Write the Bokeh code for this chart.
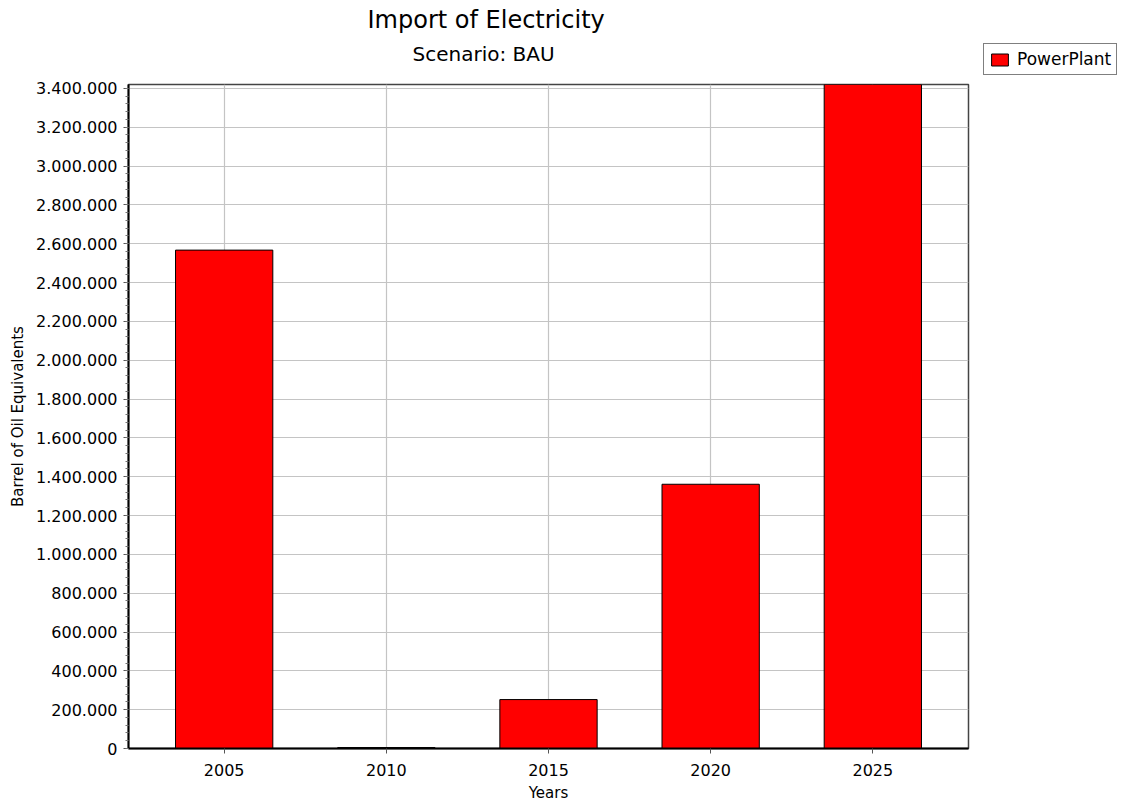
from bokeh.plotting import figure
from bokeh.models import FactorRange, Range1d, Title, Legend, LegendItem, CustomJSTickFormatter, ColumnDataSource
from bokeh.embed import file_html
from bokeh.resources import INLINE

years = ["2005", "2010", "2015", "2020", "2025"]
power_plant = [2567000, 5000, 252000, 1361000, 3420000]

FONT = "DejaVu Sans"

src = ColumnDataSource(dict(x=years, top=power_plant))

p = figure(x_range=FactorRange(*years, range_padding=0.036),
           y_range=Range1d(0, 3420000),
           frame_width=840, frame_height=664,
           min_border_left=128, min_border_right=155,
           min_border_top=84, min_border_bottom=57,
           output_backend="svg", toolbar_location=None, title=None)

r = p.vbar(x="x", top="top", width=0.6, source=src, fill_color="#ff0000",
           line_color="black", line_width=1)

p.add_layout(Title(text="Scenario: BAU", align="left", offset=284,
                   text_font=FONT, text_font_size="20px", text_font_style="normal",
                   text_color="black", standoff=38), "above")
p.add_layout(Title(text="Import of Electricity", align="left", offset=239,
                   text_font=FONT, text_font_size="24px", text_font_style="normal",
                   text_color="black", standoff=-27), "above")

p.yaxis.formatter = CustomJSTickFormatter(code="""
return Math.round(tick).toString().replace(/\\B(?=(\\d{3})+(?!\\d))/g, ".");
""")
p.yaxis.ticker.desired_num_ticks = 17
p.yaxis.ticker.num_minor_ticks = 5

for ax in (p.xaxis, p.yaxis):
    ax.axis_line_color = "black"
    ax.axis_line_width = 2
    ax.major_tick_line_color = "#555555"
    ax.minor_tick_line_color = "#777777"
    ax.major_tick_out = 5
    ax.major_tick_in = 0
    ax.minor_tick_out = 3
    ax.minor_tick_in = 0
    ax.major_label_text_font = FONT
    ax.major_label_text_font_size = "16px"
    ax.major_label_text_color = "black"
    ax.axis_label_text_font = FONT
    ax.axis_label_text_font_size = "15px"
    ax.axis_label_text_font_style = "normal"
    ax.axis_label_text_color = "black"

p.xaxis.major_label_standoff = 10
p.yaxis.major_label_standoff = 6
p.xaxis.axis_label = "Years"
p.xaxis.axis_label_standoff = 5
p.yaxis.axis_label = "Barrel of Oil Equivalents"
p.yaxis.axis_label_standoff = 6

p.xgrid.grid_line_color = "#c4c4c4"
p.ygrid.grid_line_color = "#c4c4c4"
p.xgrid.grid_line_width = 1.2
p.ygrid.grid_line_width = 1.2

p.outline_line_color = "#444444"
p.outline_line_width = 1.5

legend = Legend(items=[LegendItem(label="PowerPlant", renderers=[r])],
                location=(15, 673),
                label_text_font=FONT, label_text_font_size="17px",
                label_text_color="black",
                border_line_color="black", border_line_width=1,
                padding=5, margin=0, glyph_width=21, glyph_height=15,
                label_standoff=7, spacing=0, background_fill_alpha=1)
p.add_layout(legend, "right")

open("out.html", "w").write(file_html(p, INLINE))
